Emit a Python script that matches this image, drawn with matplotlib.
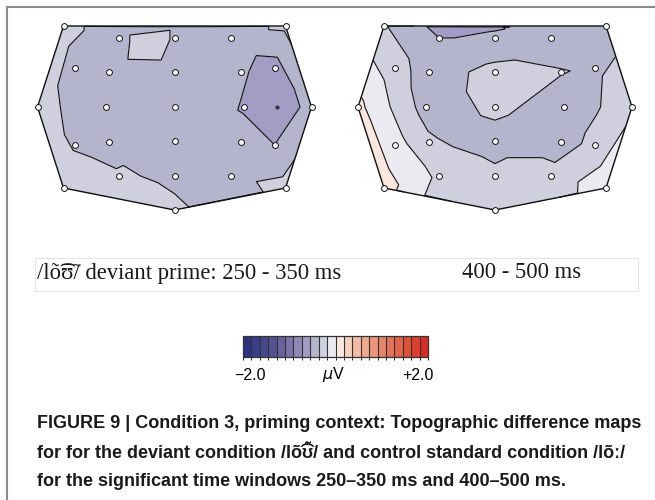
import numpy as np
import matplotlib.pyplot as plt
import matplotlib.tri as mtri
from matplotlib.colors import LinearSegmentedColormap, BoundaryNorm
from matplotlib.cm import ScalarMappable
from matplotlib.lines import Line2D
from matplotlib.patches import Rectangle

# electrode layout, pixels from map centre (y up)
elec_x = [-111, 111, -56, 0, 56, -100, -66, 0, 66, 100, -137, -69, 0, 69, 137,
          -100, -66, 0, 66, 100, -56, 0, 56, -111, 111, 0]
elec_y = [81, 81, 69, 69, 69, 39, 35, 35, 35, 39, 0, 0, 0, 0, 0,
          -38, -35, -34, -35, -38, -69, -69, -69, -81, -81, -103]
# outline goes round these electrodes
hull_idx = [0, 1, 14, 24, 25, 23, 10, 0]

# extra points (rim, top island, centre, peak last)
extra_x = [-56, 0, 56, -55, 55, -28, -33, 33, 102]
extra_y = [80, 80, 80, -91, -91, 60, -20, -20, 0]

# amplitudes in microvolt
amp_250_350 = [-0.33, -0.33, -0.42, -0.38, -0.44, -0.40, -0.45, -0.44, -0.52, -0.62,
               -0.32, -0.45, -0.46, -0.56, -0.48, -0.38, -0.45, -0.44, -0.48, -0.545,
               -0.34, -0.40, -0.42, -0.25, -0.30, -0.33]
amp_250_350_extra = [-0.42, -0.38, -0.44, -0.28, -0.46, -0.28, -0.45, -0.47, -0.68]

amp_400_500 = [-0.35, -0.45, -0.545, -0.52, -0.48, -0.28, -0.46, -0.30, -0.35, -0.40,
               0.05, -0.44, -0.29, -0.50, -0.22, -0.10, -0.33, -0.48, -0.46, -0.30,
               -0.22, -0.30, -0.30, 0.08, -0.06, -0.35]
amp_400_500_extra = [-0.60, -0.56, -0.46, -0.28, -0.30, -0.50, -0.46, -0.47, -0.38]

levels = np.linspace(-2.0, 2.0, 23)

anchors = [(0.0, '#2d3282'), (0.143, '#545292'), (0.238, '#7c74a8'), (0.333, '#a39dc5'),
           (0.381, '#b5b4cd'), (0.429, '#cfcfdd'), (0.476, '#ebeaf1'), (0.524, '#fbe7dd'),
           (0.619, '#f2bba3'), (0.762, '#e78468'), (0.905, '#de523c'), (1.0, '#d92b26')]
cmap = LinearSegmentedColormap.from_list('topo', anchors, N=22)
norm = BoundaryNorm(levels, 22)

W, H = 655, 500
fig = plt.figure(figsize=(W / 100, H / 100), dpi=100)


def px_axes(cx, cy):
    # axes of 300x210 px around the map centre, 1 unit = 1 px
    return fig.add_axes([(cx - 150) / W, (H - cy - 115) / H, 300 / W, 210 / H])


def draw_map(ax, amp, amp_extra, peak=False):
    x = np.r_[elec_x, extra_x]
    y = np.r_[elec_y, extra_y]
    z = np.r_[amp, amp_extra]
    tri = mtri.Triangulation(x, y)
    ax.tricontourf(tri, z, levels=levels, cmap=cmap, norm=norm)
    ax.tricontour(tri, z, levels=levels, colors='#111111', linewidths=0.8,
                  linestyles='solid')
    hx = [elec_x[i] for i in hull_idx]
    hy = [elec_y[i] for i in hull_idx]
    ax.plot(hx, hy, color='#111111', lw=1.0)
    ax.plot(elec_x, elec_y, 'o', ms=4.2, mfc='white', mec='#111111', mew=0.7)
    if peak:
        ax.plot(extra_x[-1], extra_y[-1], 'o', ms=2, color='#333333')
    ax.set_xlim(-150, 150)
    ax.set_ylim(-115, 95)
    ax.axis('off')


ax1 = px_axes(174.5, 107)
draw_map(ax1, amp_250_350, amp_250_350_extra, peak=True)
ax2 = px_axes(495, 107)
draw_map(ax2, amp_400_500, amp_400_500_extra)

# frame lines
fig.add_artist(Line2D([7 / W, 7 / W], [0, 1 - 7 / H], color='#8c8c8c', lw=1.5))
fig.add_artist(Line2D([7 / W, 1], [1 - 7 / H, 1 - 7 / H], color='#8c8c8c', lw=1.5))

# label strip
fig.add_artist(Rectangle((35 / W, 1 - 291 / H), 603 / W, 33 / H, fill=False,
                         ec='#e4e4e4', lw=0.8, transform=fig.transFigure))
serif = ['Liberation Serif', 'DejaVu Serif']
fig.text(37 / W, 1 - 273 / H, '/l\u00f5\u0361\u028a\u0303/ deviant prime: 250 - 350 ms',
         family=serif, fontsize=16.3, va='center', color='#1a1a1a')
fig.text(462 / W, 1 - 273 / H, '400 - 500 ms', family=serif, fontsize=16.3,
         va='center', color='#1a1a1a')

# colour bar
cax = fig.add_axes([243 / W, (H - 357) / H, 185 / W, 21 / H])
cb = fig.colorbar(ScalarMappable(norm=norm, cmap=cmap), cax=cax,
                  orientation='horizontal', drawedges=True, ticks=[])
cb.dividers.set_color('#333333')
cb.dividers.set_linewidth(0.8)
cb.outline.set_edgecolor('#333333')
cb.outline.set_linewidth(0.9)
sans = ['Liberation Sans', 'DejaVu Sans']
fig.text(250 / W, 1 - 375 / H, '\u22122.0', family=sans, fontsize=11.5, ha='center', va='center')
fig.text(334 / W, 1 - 375 / H, r'$\mu$V', family=sans, fontsize=11.5, ha='center', va='center')
fig.text(418 / W, 1 - 375 / H, '+2.0', family=sans, fontsize=11.5, ha='center', va='center')

# caption
cap = ['FIGURE 9 | Condition 3, priming context: Topographic difference maps',
       'for for the deviant condition /l\u00f5\u0361\u028a\u0303/ and control standard condition /l\u00f5\u02d0/',
       'for the significant time windows 250\u2013350 ms and 400\u2013500 ms.']
for i, line in enumerate(cap):
    fig.text(37 / W, 1 - (424 + 29 * i) / H, line, family=sans, fontsize=13,
             fontweight='bold', va='center', color='#1a1a1a')

fig.savefig('out.png', dpi=100)
